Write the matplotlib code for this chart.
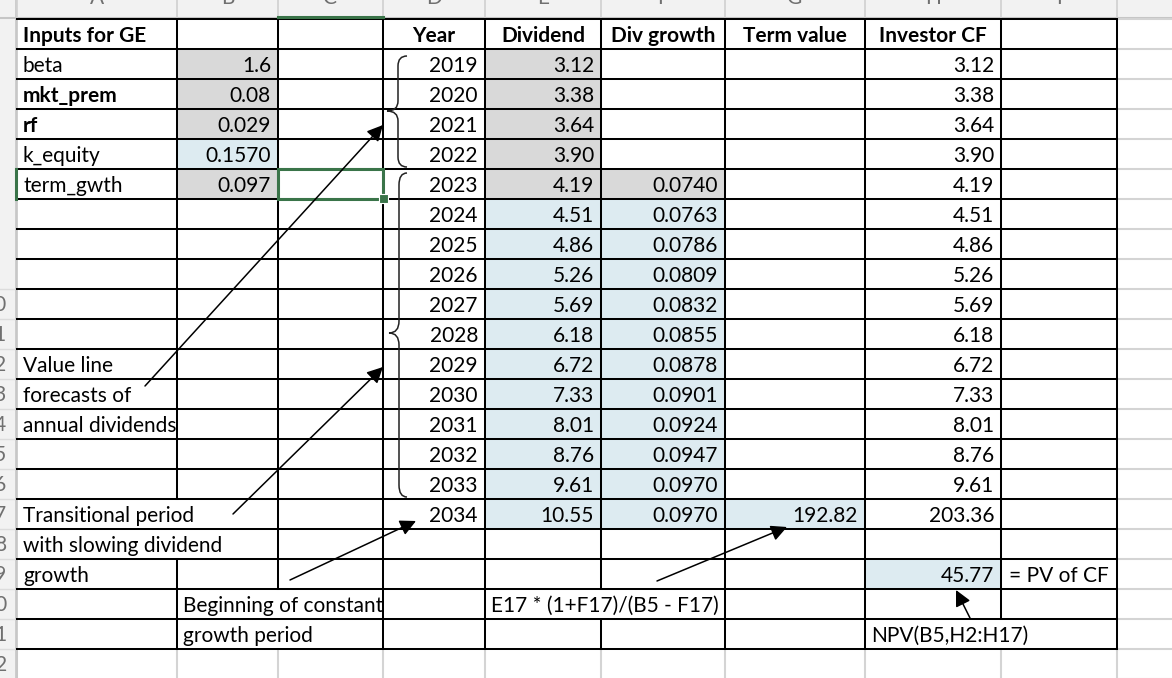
import matplotlib
matplotlib.use("Agg")
import matplotlib.pyplot as plt
from matplotlib.patches import Rectangle, PathPatch
from matplotlib.path import Path

plt.rcParams['font.family'] = ['Lato', 'DejaVu Sans']

# ---------------- data ----------------
input_labels = ["beta", "mkt_prem", "rf", "k_equity", "term_gwth"]
input_bold = [False, True, True, False, False]
input_values = ["1.6", "0.08", "0.029", "0.1570", "0.097"]
input_fill = ["grey", "grey", "grey", "blue", "grey"]

headers = ["Year", "Dividend", "Div growth", "Term value", "Investor CF"]
years = [2019, 2020, 2021, 2022, 2023, 2024, 2025, 2026, 2027, 2028,
         2029, 2030, 2031, 2032, 2033, 2034]
dividends = [3.12, 3.38, 3.64, 3.90, 4.19, 4.51, 4.86, 5.26, 5.69, 6.18,
             6.72, 7.33, 8.01, 8.76, 9.61, 10.55]
div_growth = [None, None, None, None, 0.0740, 0.0763, 0.0786, 0.0809, 0.0832,
              0.0855, 0.0878, 0.0901, 0.0924, 0.0947, 0.0970, 0.0970]
term_value = [None] * 15 + [192.82]
investor_cf = [3.12, 3.38, 3.64, 3.90, 4.19, 4.51, 4.86, 5.26, 5.69, 6.18,
               6.72, 7.33, 8.01, 8.76, 9.61, 203.36]
pv_of_cf = 45.77

notes_col_a = {12: "Value line", 13: "forecasts of", 14: "annual dividends",
               17: "Transitional period", 18: "with slowing dividend", 19: "growth"}
notes_col_b = {20: "Beginning of constant", 21: "growth period"}
formula_tv = "E17 * (1+F17)/(B5 - F17)"
formula_npv = "NPV(B5,H2:H17)"
pv_label = "= PV of CF"
col_letters = ["A", "B", "C", "D", "E", "F", "G", "H", "I", "J"]

# ---------------- layout ----------------
W, H = 1172, 678
col_edges = [17, 177, 278, 383, 485, 601, 725, 865, 1001, 1117, 1240]
HEAD_H = 19
ROW_H = 30
N_ROWS = 22
FS = 15
GREY = "#d9d9d9"
BLUE = "#ddebf1"
GREEN = "#3a7449"
GRID = "#d4d4d4"

fig = plt.figure(figsize=(W / 100, H / 100), dpi=100)
ax = fig.add_axes([0, 0, 1, 1])
ax.set_xlim(0, W)
ax.set_ylim(H, 0)
ax.axis("off")


def rtop(r):
    return HEAD_H + ROW_H * (r - 1)


def rbot(r):
    return rtop(r) + ROW_H


def fill(r, c, color):
    ax.add_patch(Rectangle((col_edges[c], rtop(r)), col_edges[c + 1] - col_edges[c],
                           ROW_H, facecolor=color, edgecolor="none", zorder=1))


def put(r, c, s, ha="left", bold=False):
    if ha == "left":
        x = col_edges[c] + 6
    elif ha == "right":
        x = col_edges[c + 1] - 7
    else:
        x = (col_edges[c] + col_edges[c + 1]) / 2
    ax.text(x, rbot(r) - 7, s, ha=ha, va="baseline", fontsize=FS,
            fontweight="bold" if bold else "normal", color="black", zorder=5)


# header row and row-number column (partly outside the visible crop, as in the reference)
ax.add_patch(Rectangle((0, 0), W, HEAD_H - 1, facecolor="#f2f2f2", edgecolor="none", zorder=0))
ax.add_patch(Rectangle((0, 0), 16, H, facecolor="#f2f2f2", edgecolor="none", zorder=0))
ax.plot([0, W], [HEAD_H - 1, HEAD_H - 1], color="#c6c6c6", lw=1.5, zorder=2)
ax.plot([16, 16], [0, H], color="#c6c6c6", lw=1.2, zorder=2)
for i, L in enumerate(col_letters):
    xe = col_edges[i]
    ax.plot([xe, xe], [0, HEAD_H - 1], color="#d0d0d0", lw=1.2, zorder=2)
    ax.text((col_edges[i] + col_edges[i + 1]) / 2, 4, L, ha="center", va="baseline",
            fontsize=FS, color="#707070", zorder=3, clip_on=True)
for r in range(10, N_ROWS + 1):
    ax.text(7, rtop(r) + 22, str(r), ha="right", va="baseline", fontsize=FS,
            color="#707070", zorder=3, clip_on=True)
    ax.plot([0, 16], [rtop(r), rtop(r)], color="#dcdcdc", lw=1.0, zorder=2)

# grey gridlines outside table
for r in range(1, N_ROWS + 2):
    ax.plot([col_edges[9], W], [rtop(r), rtop(r)], color=GRID, lw=1.5, zorder=2)
for xe in col_edges[:10]:
    ax.plot([xe, xe], [rbot(21), H], color=GRID, lw=1.5, zorder=2)
ax.plot([17, 17], [HEAD_H, H], color="#c6c6c6", lw=1.2, zorder=2)

# fills
for i, f in enumerate(input_fill):
    fill(2 + i, 1, GREY if f == "grey" else BLUE)
for i in range(len(years)):
    r = 2 + i
    fill(r, 4, GREY if i < 5 else BLUE)
    if div_growth[i] is not None:
        fill(r, 5, GREY if i < 5 else BLUE)
    if term_value[i] is not None:
        fill(r, 6, BLUE)
fill(19, 7, BLUE)

# black borders
LW = 1.45
for r in range(1, 23):
    y = rtop(r)
    ax.plot([17, col_edges[9]], [y, y], color="black", lw=LW, zorder=3, solid_capstyle="projecting")
gaps = {1: [(17, 18)], 2: [(20, 21)], 5: [(20, 20)], 8: [(21, 21)]}
for c in range(1, 10):
    x = col_edges[c]
    segs = []
    start = 1
    for (a, b) in gaps.get(c, []):
        segs.append((start, a - 1))
        start = b + 1
    segs.append((start, 21))
    for a, b in segs:
        if b >= a:
            ax.plot([x, x], [rtop(a), rbot(b)], color="black", lw=LW, zorder=3,
                    solid_capstyle="projecting")

# text: inputs
put(1, 0, "Inputs for GE", bold=True)
for i, (lab, b, v) in enumerate(zip(input_labels, input_bold, input_values)):
    put(2 + i, 0, lab, bold=b)
    put(2 + i, 1, v, ha="right")
for j, h in enumerate(headers):
    put(1, 3 + j, h, ha="center", bold=True)
for i in range(len(years)):
    r = 2 + i
    put(r, 3, str(years[i]), ha="right")
    put(r, 4, f"{dividends[i]:.2f}", ha="right")
    if div_growth[i] is not None:
        put(r, 5, f"{div_growth[i]:.4f}", ha="right")
    if term_value[i] is not None:
        put(r, 6, f"{term_value[i]:.2f}", ha="right")
    put(r, 7, f"{investor_cf[i]:.2f}", ha="right")
put(19, 7, f"{pv_of_cf:.2f}", ha="right")
put(19, 8, pv_label, ha="center")
for r, s in notes_col_a.items():
    put(r, 0, s)
for r, s in notes_col_b.items():
    put(r, 1, s)
put(20, 4, formula_tv)
put(21, 7, formula_npv)

# selection (cell C6)
ax.add_patch(Rectangle((col_edges[2], rtop(6)), col_edges[3] - col_edges[2], ROW_H,
                       facecolor="none", edgecolor=GREEN, lw=2.2, zorder=6))
ax.add_patch(Rectangle((col_edges[3] - 4.5, rbot(6) - 5), 9, 9, facecolor=GREEN,
                       edgecolor="white", lw=0.8, zorder=7))
ax.plot([col_edges[2], col_edges[3]], [HEAD_H - 2, HEAD_H - 2], color=GREEN, lw=2.2, zorder=4)
ax.plot([15.5, 15.5], [rtop(6), rbot(6)], color=GREEN, lw=2.2, zorder=4)


# braces
def brace(x_end, x_line, x_tip, y_top, y_mid, y_bot, rad):
    verts = [(x_end, y_top), (x_line, y_top), (x_line, y_top + rad),
             (x_line, y_mid - rad), (x_line, y_mid), (x_tip, y_mid),
             (x_line, y_mid), (x_line, y_mid + rad),
             (x_line, y_bot - rad), (x_line, y_bot), (x_end, y_bot)]
    codes = [Path.MOVETO, Path.CURVE3, Path.CURVE3, Path.LINETO, Path.CURVE3, Path.CURVE3,
             Path.CURVE3, Path.CURVE3, Path.LINETO, Path.CURVE3, Path.CURVE3]
    ax.add_patch(PathPatch(Path(verts, codes), facecolor="none", edgecolor="#222222",
                           lw=1.1, zorder=6))


brace(407, 398, 387, 56, 111, 167, 10)
brace(407, 399, 389, 173, 333, 497, 12)

# arrows
arrows = [((145, 386), (383, 125)), ((233, 514), (383, 367)), ((290, 580), (416, 521)),
          ((657, 581), (787, 527)), ((970, 618), (956, 590))]
for tail, head in arrows:
    ax.annotate("", xy=head, xytext=tail,
                arrowprops=dict(arrowstyle="-|>,head_length=0.6,head_width=0.3",
                                mutation_scale=16, color="black", lw=1.1,
                                shrinkA=0, shrinkB=0), zorder=8)

fig.savefig("out.png", dpi=100)
